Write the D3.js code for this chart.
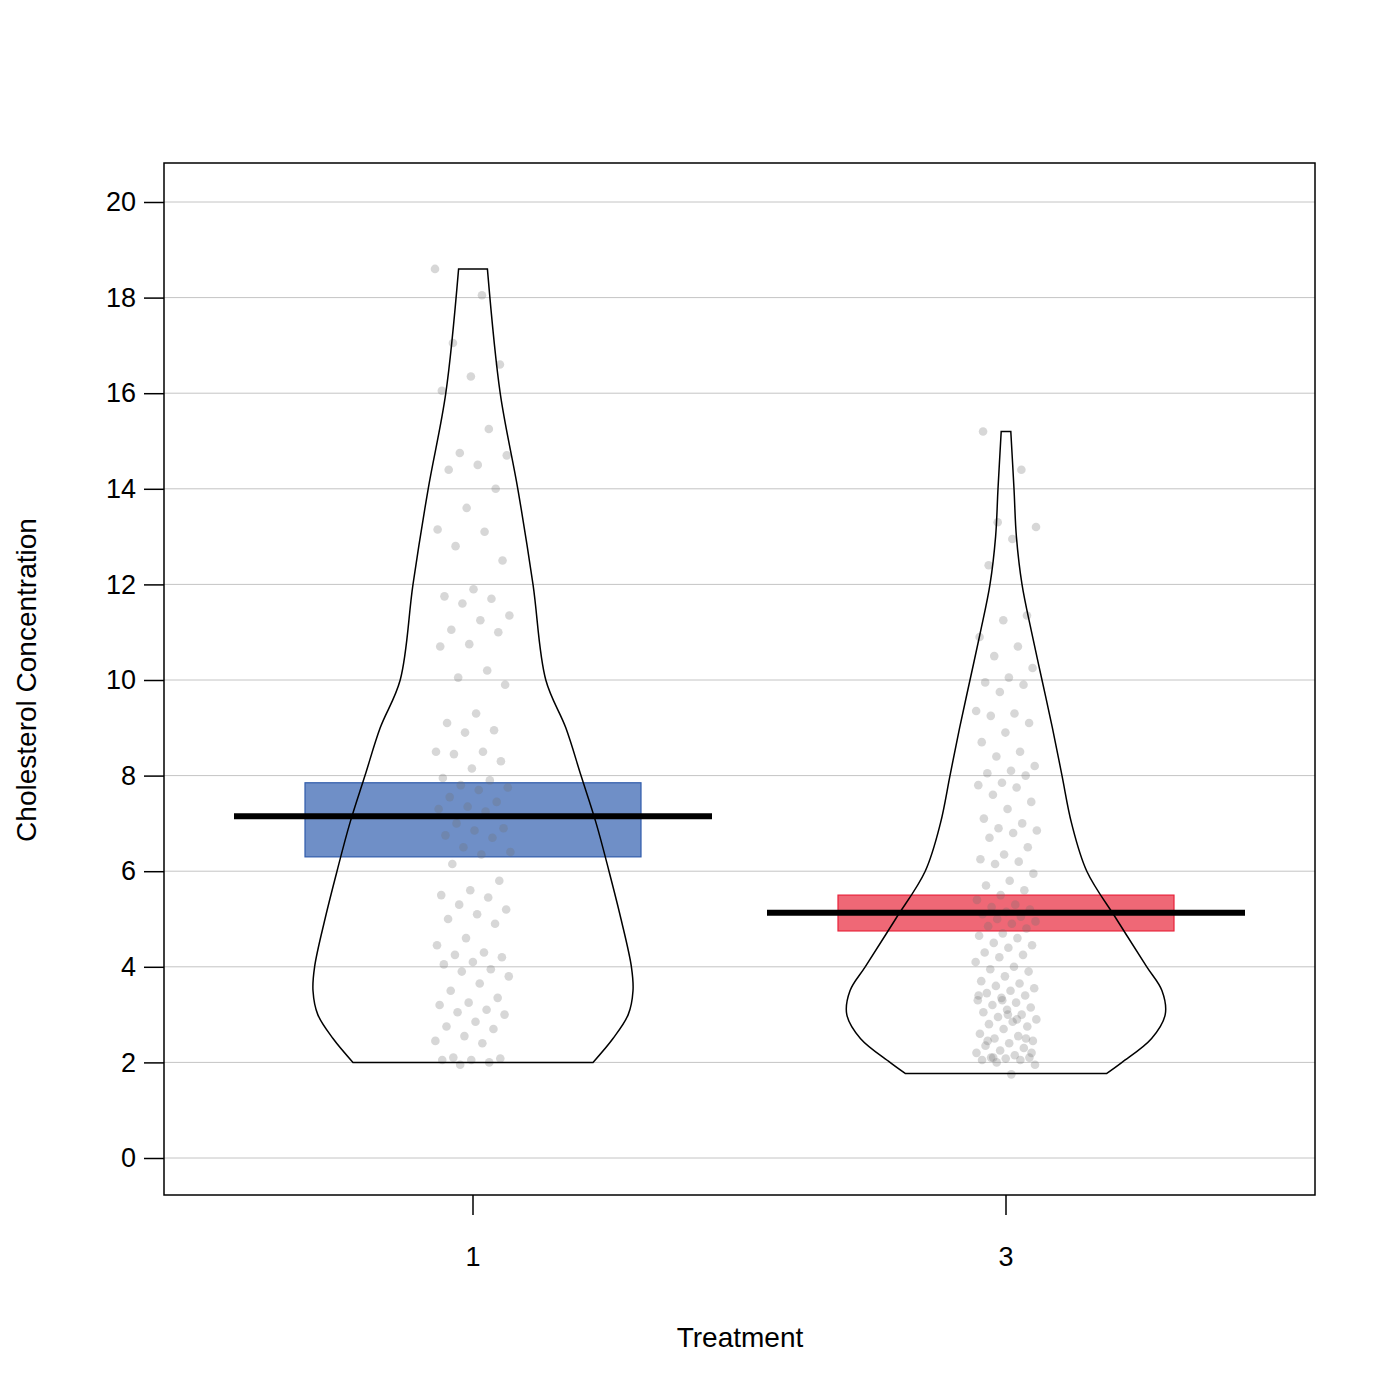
<!DOCTYPE html><html><head><meta charset="utf-8">
<script src="https://cdn.jsdelivr.net/npm/d3@7"></script>
<style>body{margin:0;background:#fff}</style></head><body><svg id="c" width="1400" height="1400"></svg>
<script>
const categories=["1","3"];
const yTicks=[0,2,4,6,8,10,12,14,16,18,20];
const means=[7.15,5.13];
const ciLow=[6.3,4.75];
const ciHigh=[7.85,5.5];
const barColors=["#6f8fc7","#ef6876"];
const barStroke=["#2f5bab","#e8223a"];
const violin1Y=[2,2.5,3,3.5,4,5,6,7,8,9,10,12,14,16,18.6];
const violin1W=[0.75,0.875,0.97,1.0,0.99,0.925,0.85,0.77,0.675,0.58,0.455,0.375,0.28,0.17,0.09];
const violin3Y=[1.77,2,2.5,3,3.5,4,5,6,7,8,9,10,11,12,13,14,15.2];
const violin3W=[0.63,0.725,0.91,0.995,0.975,0.88,0.69,0.505,0.41,0.35,0.29,0.225,0.16,0.1,0.065,0.05,0.03];
const values1=[18.6,18.05,17.05,16.6,16.35,16.05,15.25,14.75,14.7,14.5,14.4,14.0,13.6,13.15,13.1,12.8,12.5,11.9,11.75,11.7,11.6,11.35,11.25,11.05,11.0,10.75,10.7,10.2,10.05,9.9,9.3,9.1,8.95,8.9,8.5,8.5,8.45,8.3,8.15,7.95,7.9,7.8,7.75,7.7,7.55,7.45,7.35,7.3,7.25,7.0,6.9,6.85,6.75,6.7,6.5,6.4,6.35,6.15,5.8,5.6,5.5,5.45,5.3,5.2,5.1,5.0,4.9,4.6,4.45,4.3,4.25,4.2,4.1,4.05,3.95,3.9,3.8,3.65,3.5,3.35,3.25,3.2,3.1,3.05,3.0,2.85,2.75,2.7,2.55,2.45,2.4,2.1,2.08,2.05,2.05,2.0,1.95];
const values3=[15.2,14.4,13.3,13.2,12.95,12.4,11.35,11.25,10.9,10.7,10.5,10.25,10.05,9.95,9.9,9.75,9.35,9.3,9.25,9.1,8.9,8.7,8.5,8.4,8.2,8.1,8.05,8.0,7.85,7.8,7.75,7.6,7.45,7.3,7.1,7.0,6.9,6.85,6.8,6.7,6.5,6.35,6.25,6.2,6.15,5.95,5.8,5.7,5.6,5.5,5.4,5.3,5.25,5.2,5.15,5.1,5.05,5.0,4.95,4.9,4.85,4.8,4.7,4.65,4.6,4.5,4.45,4.4,4.3,4.25,4.2,4.1,4.0,3.95,3.9,3.8,3.7,3.65,3.6,3.55,3.5,3.45,3.4,3.35,3.3,3.25,3.2,3.15,3.1,3.05,3.0,2.95,2.9,2.85,2.8,2.75,2.7,2.6,2.55,2.5,2.45,2.4,2.35,2.3,2.25,2.2,2.15,2.1,2.1,2.08,2.05,2.05,2.0,1.95,1.75,2.45,2.5,3.3,3.4,2.9,2.1,2.2,3.0];

const svg=d3.select("#c");
const L=164,R=1315,T=163,B=1195;
const x=d3.scaleLinear().domain([0,1]).range([473,1006]);
const xc=i=>x(i);
const y=d3.scaleLinear().domain([0,20]).range([1158,202]);
const font="Liberation Sans, Arial, sans-serif";
svg.selectAll(".g").data(yTicks).join("line").attr("x1",L).attr("x2",R).attr("y1",d=>y(d)).attr("y2",d=>y(d)).attr("stroke","#c4c4c4").attr("stroke-width",1);
categories.forEach((c,i)=>{
  svg.append("rect").attr("x",xc(i)-168).attr("width",336).attr("y",y(ciHigh[i])).attr("height",y(ciLow[i])-y(ciHigh[i])).attr("fill",barColors[i]).attr("stroke",barStroke[i]).attr("stroke-width",1.2);
});
const gold=0.618034;
[values1,values3].forEach((vals,i)=>{
  svg.append("g").selectAll("circle").data(vals).join("circle")
    .attr("cx",(d,j)=>xc(i)+(((j*gold+0.13*i)%1)-0.5)*(i?62:76))
    .attr("cy",d=>y(d)).attr("r",4.3).attr("fill","rgba(110,110,110,0.28)");
});
const W=160;
[[violin1Y,violin1W],[violin3Y,violin3W]].forEach(([ys,ws],i)=>{
  const pts=ys.map((v,k)=>({y:v,w:ws[k]}));
  const right=pts.map(p=>[xc(i)+p.w*W,y(p.y)]);
  const left=pts.slice().reverse().map(p=>[xc(i)-p.w*W,y(p.y)]);
  const line=d3.line().curve(d3.curveCatmullRom);
  svg.append("path").attr("d",line(right)+"L"+line(left).slice(1)+"Z").attr("fill","none").attr("stroke","#000").attr("stroke-width",1.5);
});
categories.forEach((c,i)=>{
  svg.append("line").attr("x1",xc(i)-239).attr("x2",xc(i)+239).attr("y1",y(means[i])).attr("y2",y(means[i])).attr("stroke","#000").attr("stroke-width",6);
});
svg.append("rect").attr("x",L).attr("y",T).attr("width",R-L).attr("height",B-T).attr("fill","none").attr("stroke","#000").attr("stroke-width",1.5);
const ya=svg.append("g").attr("transform",`translate(${L-20},0)`).call(d3.axisLeft(y).tickValues(yTicks).tickSize(20).tickPadding(8));
ya.select(".domain").remove();
ya.selectAll("line").attr("stroke-width",1.5).attr("x1",0).attr("x2",20);
ya.selectAll("text").attr("font-size",27).attr("font-family",font).attr("fill","#000").attr("x",-8);
categories.forEach((c,i)=>{
  svg.append("line").attr("x1",xc(i)).attr("x2",xc(i)).attr("y1",B).attr("y2",B+20).attr("stroke","#000").attr("stroke-width",1.5);
  svg.append("text").attr("x",xc(i)).attr("y",1266).attr("text-anchor","middle").attr("font-size",27).attr("font-family",font).text(c);
});
svg.append("text").attr("x",740).attr("y",1347).attr("text-anchor","middle").attr("font-size",28).attr("font-family",font).text("Treatment");
svg.append("text").attr("transform","translate(36,680) rotate(-90)").attr("text-anchor","middle").attr("font-size",28).attr("font-family",font).text("Cholesterol Concentration");
</script></body></html>
